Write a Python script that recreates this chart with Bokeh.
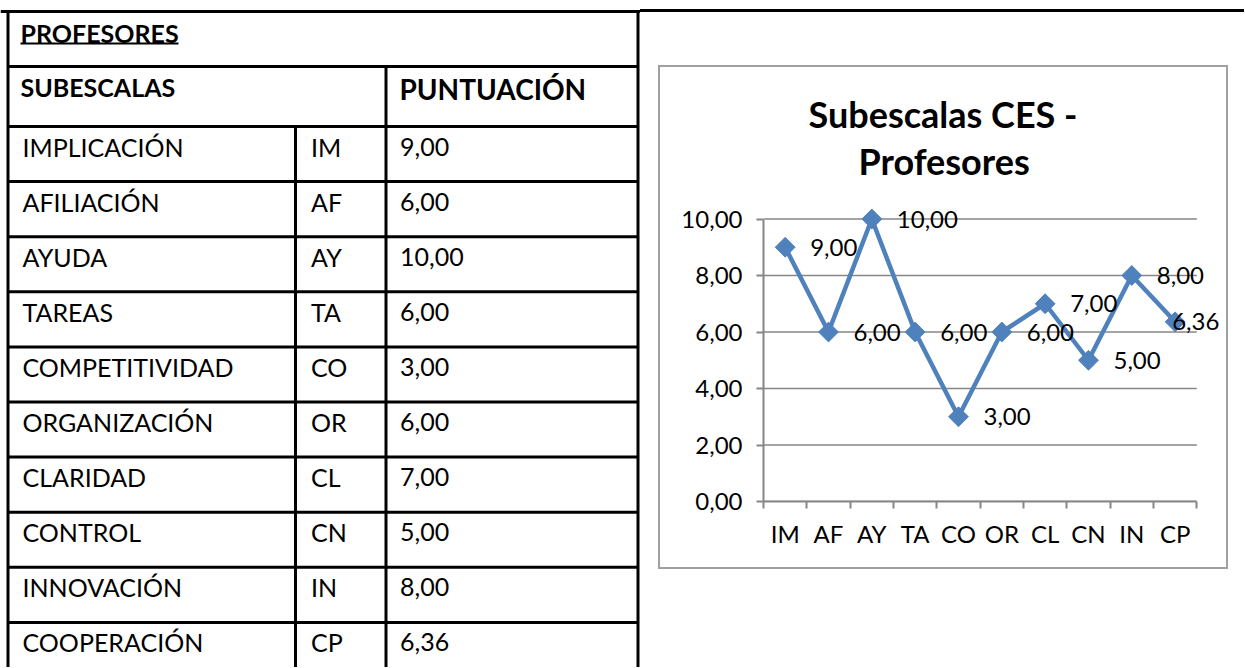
from bokeh.plotting import figure
from bokeh.layouts import row, column
from bokeh.models import Range1d, FixedTicker, ColumnDataSource, Title
from bokeh.core.properties import value
from bokeh.embed import file_html
from bokeh.resources import INLINE

# ---------------- data ----------------
names = ["IMPLICACIÓN", "AFILIACIÓN", "AYUDA", "TAREAS", "COMPETITIVIDAD",
         "ORGANIZACIÓN", "CLARIDAD", "CONTROL", "INNOVACIÓN", "COOPERACIÓN"]
codes = ["IM", "AF", "AY", "TA", "CO", "OR", "CL", "CN", "IN", "CP"]
scores = [9.00, 6.00, 10.00, 6.00, 3.00, 6.00, 7.00, 5.00, 8.00, 6.36]
y_ticks = [0, 2, 4, 6, 8, 10]
table_title = "PROFESORES"
header_left = "SUBESCALAS"
header_right = "PUNTUACIÓN"
chart_title = ["Subescalas CES -", "Profesores"]


def es(v):
    return f"{v:.2f}".replace(".", ",")


FONT = "Lato"
BLUE = "#4F81BD"
GRAY = "#868686"

# ---------------- table (left) ----------------
TW, H = 640, 667
t = figure(width=TW, height=H, x_range=Range1d(0, TW), y_range=Range1d(H, 0),
           output_backend="svg", toolbar_location=None, min_border=0,
           x_axis_location=None, y_axis_location=None)
t.frame_align = False
t.grid.visible = False
t.outline_line_color = None

TOP, HDR1, HDR2, ROW_H = 11, 66, 126, 55.1
LEFT, C1, C2, RIGHT = 7.5, 295, 385.5, 637.5
BOTTOM = H
row_tops = [HDR2 + i * ROW_H for i in range(len(names))]

hx0 = [0, LEFT, LEFT] + [LEFT] * (len(names) - 1)
hx1 = [TW, RIGHT, RIGHT] + [RIGHT] * (len(names) - 1)
hy = [TOP, HDR1, HDR2] + row_tops[1:]
t.segment(x0=hx0, x1=hx1, y0=hy, y1=hy, line_color="black", line_width=3)
t.segment(x0=[LEFT, RIGHT, C2, C1], x1=[LEFT, RIGHT, C2, C1],
          y0=[TOP - 1.5, TOP - 1.5, HDR1, HDR2], y1=[BOTTOM] * 4,
          line_color="black", line_width=3)

# header texts
t.text(x=[20], y=[32], text=[table_title], text_font=value(FONT), text_font_style="bold",
       text_font_size="25px", text_baseline="middle")
t.segment(x0=[20], x1=[178], y0=[43], y1=[43], line_color="black", line_width=1.8)
t.text(x=[20], y=[86], text=[header_left], text_font=value(FONT), text_font_style="bold",
       text_font_size="25px", text_baseline="middle")
t.text(x=[399], y=[88], text=[header_right], text_font=value(FONT), text_font_style="bold",
       text_font_size="28px", text_baseline="middle")

mid = [rt + 20 for rt in row_tops]
src = ColumnDataSource(dict(m=mid, n=names, c=codes, v=[es(s) for s in scores]))
for xx, col in ((22, "n"), (310.5, "c"), (399.5, "v")):
    t.text(x=xx, y="m", text=col, source=src, text_font=value(FONT),
           text_font_size="25px", text_baseline="middle", text_color="black")

# ---------------- chart (right) ----------------
CW, CH = 566, 500          # chart box
PX_X = 43.33               # px per category
PX_Y = 28.25               # px per unit
FL, FW, FT, FH = 103, 459, 138, 296
c = figure(width=CW, height=CH,
           x_range=Range1d(0, FW / PX_X), y_range=Range1d(0, FH / PX_Y),
           output_backend="svg", toolbar_location=None,
           min_border_left=FL, min_border_right=CW - FL - FW,
           min_border_top=FT, min_border_bottom=CH - FT - FH)
c.frame_align = False
c.outline_line_color = None
c.grid.visible = False
c.styles = {"outline": "2px solid #A0A0A0"}

n = len(codes)
xs = [i + 0.5 for i in range(n)]

# gridlines
c.segment(x0=[0] * len(y_ticks), x1=[n] * len(y_ticks), y0=y_ticks, y1=y_ticks,
          line_color=GRAY, line_width=1.5)

yax = c.yaxis[0]
yax.ticker = FixedTicker(ticks=y_ticks, minor_ticks=[])
yax.major_label_overrides = {v: es(v) for v in y_ticks}
yax.bounds = (0, 10)
yax.major_tick_out = 7
yax.major_tick_in = 0
yax.axis_line_color = GRAY
yax.axis_line_width = 2
yax.major_tick_line_color = GRAY
yax.major_tick_line_width = 2
yax.major_label_text_font = FONT
yax.major_label_text_font_size = "24px"
yax.major_label_text_color = "black"
yax.major_label_standoff = 14

xax = c.xaxis[0]
xax.ticker = FixedTicker(ticks=xs, minor_ticks=list(range(n + 1)))
xax.major_label_overrides = {x: cd for x, cd in zip(xs, codes)}
xax.bounds = (0, n)
xax.major_tick_out = 0
xax.major_tick_in = 0
xax.minor_tick_out = 7
xax.minor_tick_in = 0
xax.minor_tick_line_color = GRAY
xax.minor_tick_line_width = 2
xax.axis_line_color = GRAY
xax.axis_line_width = 2
xax.major_label_text_font = FONT
xax.major_label_text_font_size = "24px"
xax.major_label_text_color = "black"
xax.major_label_standoff = 10

# data labels sit right of each point; the last one is pulled back inside the box
label_dx = [25] * (n - 1) + [-3]
c.line(xs, scores, line_color=BLUE, line_width=4.5)
c.scatter(xs, scores, marker="square", angle=0.785398, size=14, color=BLUE)
lab = ColumnDataSource(dict(x=xs, y=scores, t=[es(v) for v in scores], dx=label_dx))
c.text(x="x", y="y", text="t", x_offset="dx", source=lab, text_baseline="middle",
       text_font=value(FONT), text_font_size="24px", text_color="black")

# titles centred on the chart box (not on the plot frame)
c.add_layout(Title(text=chart_title[1], align="left", offset=95, text_font=FONT,
                   text_font_style="bold", text_font_size="36px", text_color="black",
                   standoff=45), "above")
c.add_layout(Title(text=chart_title[0], align="left", offset=45, text_font=FONT,
                   text_font_style="bold", text_font_size="36px", text_color="black",
                   standoff=-43), "above")

c.margin = (55, 0, 0, 20)
right = column(c, width=1244 - TW, height=H,
               styles={"border-top": "3px solid black"}, margin=(9, 0, 0, 0))

layout = row(t, right, spacing=0)
open("out.html", "w").write(file_html(layout, INLINE))
